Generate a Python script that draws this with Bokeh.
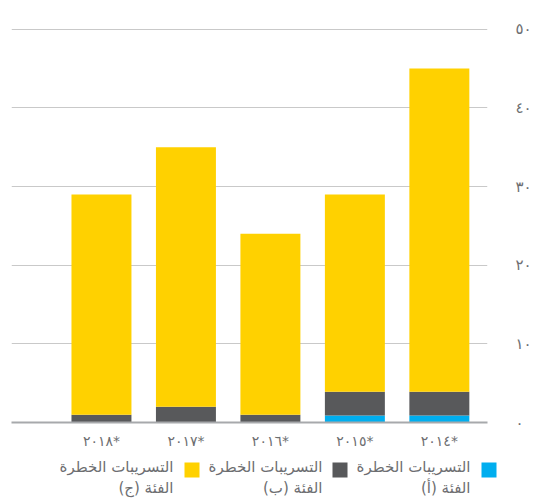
from bokeh.plotting import figure
from bokeh.layouts import column, row
from bokeh.models import Range1d, FixedTicker, Label, BoxAnnotation, ColumnDataSource
from bokeh.embed import file_html
from bokeh.resources import INLINE

# ---- data (left to right as drawn) ----
years = ["٢٠١٨*", "٢٠١٧*", "٢٠١٦*", "٢٠١٥*", "٢٠١٤*"]
cat_a = [0.0, 0.0, 0.0, 0.9, 0.9]        # الفئة (أ)
cat_b = [1.0, 2.0, 1.0, 3.0, 3.0]        # الفئة (ب)
cat_c = [28.0, 33.0, 23.0, 25.1, 41.1]   # الفئة (ج)
y_ticks = [0, 10, 20, 30, 40, 50]
y_tick_labels = ["٠", "١٠", "٢٠", "٣٠", "٤٠", "٥٠"]
series_names = ["التسريبات الخطرة\n\u200fالفئة (أ)\u200f",
                "التسريبات الخطرة\n\u200fالفئة (ب)\u200f",
                "التسريبات الخطرة\n\u200fالفئة (ج)\u200f"]
colors = ["#00AEEF", "#58595B", "#FFD100"]

FONT = "DejaVu Sans"
TXT = "#6D6E71"
W = 553
H_MAIN = 455
H_LEG = 44

xs = list(range(len(years)))
src = ColumnDataSource(dict(x=xs, a=cat_a, b=cat_b, c=cat_c))

p = figure(width=W, height=H_MAIN, output_backend="svg", toolbar_location=None,
           x_range=Range1d(-1.065, 4.57), y_range=Range1d(0, 50.1),
           y_axis_location="right",
           min_border_left=11, min_border_right=66, min_border_top=28, min_border_bottom=33)
p.outline_line_color = None
p.background_fill_color = "white"
p.border_fill_color = "white"

p.vbar_stack(["a", "b", "c"], x="x", width=0.71, source=src, color=colors, line_color=None)

# grid
p.xgrid.grid_line_color = None
p.ygrid.ticker = FixedTicker(ticks=y_ticks)
p.ygrid.grid_line_color = "#C9C9C9"
p.ygrid.grid_line_width = 1

# x axis
xa = p.xaxis[0]
xa.ticker = FixedTicker(ticks=xs)
xa.major_label_overrides = {i: years[i] for i in xs}
xa.axis_line_color = "#A7A9AC"
xa.axis_line_width = 2
xa.major_tick_line_color = None
xa.minor_tick_line_color = None
xa.major_tick_out = 0
xa.major_label_text_font = FONT
xa.major_label_text_font_size = "14px"
xa.major_label_text_color = TXT
xa.major_label_standoff = 10

# y axis (right)
ya = p.yaxis[0]
ya.ticker = FixedTicker(ticks=y_ticks)
ya.major_label_overrides = {v: s for v, s in zip(y_ticks, y_tick_labels)}
ya.axis_line_color = None
ya.major_tick_line_color = None
ya.minor_tick_line_color = None
ya.major_tick_out = 0
ya.major_tick_in = 0
ya.major_label_text_font = FONT
ya.major_label_text_font_size = "15px"
ya.major_label_text_color = TXT
ya.major_label_standoff = 28

# legend strip (right-to-left items), drawn in its own figure below the chart
leg = figure(width=W, height=H_LEG, output_backend="svg", toolbar_location=None,
             x_range=Range1d(0, 1), y_range=Range1d(0, 1),
             x_axis_type=None, y_axis_type=None,
             min_border=0, min_border_left=0, min_border_right=0,
             min_border_top=0, min_border_bottom=0)
leg.outline_line_color = None
leg.xgrid.visible = False
leg.ygrid.visible = False

label_right = [470, 322, 173]
square_left = [481, 332, 184]
top = H_LEG - 2
for name, col, xr, xs_ in zip(series_names, colors, label_right, square_left):
    leg.add_layout(Label(x=xr, y=top, x_units="screen", y_units="screen", text=name,
                         text_align="right", text_baseline="top", text_font=FONT,
                         text_font_size="15px", text_color=TXT, text_line_height=1.2))
    leg.add_layout(BoxAnnotation(left=xs_, right=xs_ + 15, top=H_LEG - 7, bottom=H_LEG - 22,
                                 left_units="screen", right_units="screen",
                                 top_units="screen", bottom_units="screen",
                                 fill_color=col, fill_alpha=1, line_color=None))

layout = column(p, row(leg, spacing=0), spacing=0)
open("out.html", "w").write(file_html(layout, INLINE))
